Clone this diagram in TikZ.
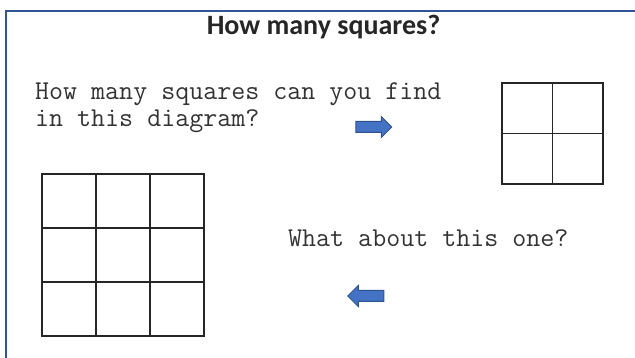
\documentclass[tikz,border=0pt]{standalone}
\usepackage{fontspec}
\setmainfont{Carlito}
\usepackage{tikz}
\usetikzlibrary{shapes.arrows, positioning}
\usepackage{xcolor}
\definecolor{framecol}{HTML}{2F5597}
\definecolor{arrfill}{HTML}{4472C4}
\definecolor{arrline}{HTML}{2F528F}

\begin{document}
\begin{tikzpicture}[
    x=1pt, y=-1pt,
    titletext/.style = {font=\fontsize{28}{32}\selectfont\bfseries, text=black!85, inner sep=0pt},
    qtext/.style     = {font=\fontsize{27.2}{27}\selectfont\ttfamily, text=black!80,
                        align=left, inner sep=0pt},
    bigcell/.style   = {draw=black!85, line width=1.8pt, minimum size=54pt, inner sep=0pt},
    smallcell/.style = {draw=black!85, line width=1.8pt, minimum size=50.5pt, inner sep=0pt},
    blockarr/.style  = {single arrow, draw=arrline, fill=arrfill, line width=1pt,
                        minimum height=36pt, inner xsep=0pt, inner ysep=5pt,
                        single arrow head extend=5pt, single arrow head indent=0pt},
    framebox/.style  = {draw=framecol, line width=2.2pt},
]

\useasboundingbox (0,0) rectangle (635,358);
\clip (0,0) rectangle (635,358);

%% Frame
\draw[framebox] (6,11) rectangle (660,380);

%% Texts
\node[titletext, anchor=base] (title) at (323.5,35) {How many squares?};
\node[qtext, anchor=base west] (ask1) at (35,127)
    {How many squares can you find\\in this diagram?};
\node[qtext, anchor=base west] (ask2) at (288,247) {What about this one?};

%% Arrows
\node[blockarr] (arrR) at (371,127) {};
\node[blockarr, shape border rotate=180] (arrL) at (368.5,296) {};

%% 2x2 grid
\foreach \r in {0,1}
  \foreach \c in {0,1}
    \node[smallcell] (s\r\c) at ({527.25+50.5*\c},{108.25+50.5*\r}) {};

%% 3x3 grid
\foreach \r in {0,1,2}
  \foreach \c in {0,1,2}
    \node[bigcell] (b\r\c) at ({69+54*\c},{201+54*\r}) {};

\end{tikzpicture}
\end{document}
